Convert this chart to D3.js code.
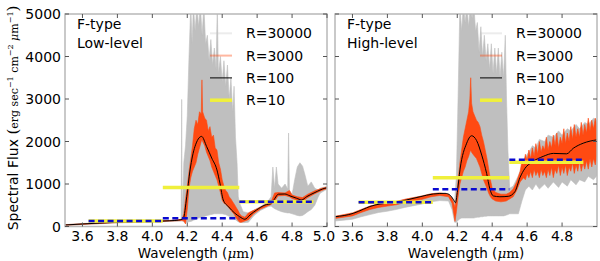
<!DOCTYPE html>
<html>
<head>
<meta charset="utf-8">
<script src="https://cdn.jsdelivr.net/npm/d3@7"></script>
<style>
  body { margin: 0; background: #fff; }
  text { font-family: "DejaVu Sans", sans-serif; fill: #000; }
</style>
</head>
<body>
<script>
    // tick labels, legend, panel titles
    const waveTicks = [3.6, 3.8, 4.0, 4.2, 4.4, 4.6, 4.8, 5.0];
    const fluxTicks = [0, 1000, 2000, 3000, 4000, 5000];
    const legendLabels = ["R=30000", "R=3000", "R=100", "R=10"];
    const panelTitles = [["F-type", "Low-level"], ["F-type", "High-level"]];

    // R=10 bins (shared edges) and the dashed comparison values
    const binEdges = [3.635, 4.06, 4.498, 4.922];
    const lowR10 = [130, 915, 585];
    const lowDashed = [130, 193, 585];
    const highR10 = [570, 1150, 1514];
    const highDashed = [570, 877, 1568];

    // R=100: [wavelength, flux]
    const lowR100 = [
      [3.50, 35], [3.60, 60], [3.70, 80], [3.80, 100], [3.90, 110], [4.00, 120], [4.10, 135],
      [4.15, 150], [4.177, 185], [4.197, 700], [4.216, 1330], [4.244, 1880], [4.282, 2120],
      [4.311, 1880], [4.34, 1610], [4.37, 1330], [4.387, 1020], [4.406, 625], [4.435, 470],
      [4.473, 310], [4.50, 230], [4.53, 170], [4.559, 270], [4.597, 390], [4.645, 505],
      [4.683, 545], [4.702, 665], [4.721, 760], [4.759, 765], [4.788, 720], [4.826, 665],
      [4.855, 625], [4.883, 700], [4.931, 800], [4.988, 900], [5.00, 910]
    ];
    const highR100 = [
      [3.50, 230], [3.605, 310], [3.662, 405], [3.70, 470], [3.758, 530], [3.834, 560],
      [3.91, 625], [3.987, 700], [4.063, 765], [4.13, 780], [4.158, 740], [4.177, 640],
      [4.19, 560], [4.20, 800], [4.216, 1350], [4.254, 1960], [4.282, 2135], [4.311, 2020],
      [4.34, 1680], [4.368, 1250], [4.387, 880], [4.406, 720], [4.444, 700], [4.492, 710],
      [4.53, 820], [4.559, 1150], [4.588, 1370], [4.626, 1510], [4.692, 1650], [4.75, 1720],
      [4.826, 1710], [4.864, 1840], [4.921, 1960], [5.00, 2040]
    ];

    // R=3000 and R=30000 spread: [wavelength, low, high]
    const lowR3000 = [
      [3.50, 28, 42], [3.80, 92, 108], [4.10, 128, 142], [4.17, 140, 170], [4.18, 130, 300],
      [4.19, 60, 650], [4.20, 400, 950], [4.21, 900, 1300], [4.22, 1150, 1600], [4.23, 1300, 1900],
      [4.24, 1400, 2300], [4.25, 1500, 2500], [4.26, 1700, 2400], [4.27, 1850, 2700],
      [4.28, 2000, 2650], [4.284, 2050, 3450], [4.288, 2000, 2700], [4.30, 1900, 2550],
      [4.31, 1750, 2500], [4.32, 1650, 2250], [4.33, 1550, 2350], [4.34, 1400, 2100],
      [4.35, 1300, 2150], [4.36, 1200, 1850], [4.37, 1100, 1800], [4.38, 950, 1500],
      [4.39, 800, 1350], [4.40, 620, 1100], [4.41, 550, 950], [4.42, 520, 850], [4.43, 480, 800],
      [4.44, 430, 700], [4.45, 380, 650], [4.46, 330, 580], [4.47, 280, 520], [4.48, 200, 450],
      [4.49, 150, 380], [4.50, 100, 300], [4.51, 100, 250], [4.53, 130, 220], [4.55, 160, 320],
      [4.58, 300, 380], [4.62, 410, 460], [4.68, 520, 580], [4.70, 600, 790], [4.72, 720, 800],
      [4.76, 730, 790], [4.785, 700, 850], [4.80, 660, 740], [4.83, 620, 700], [4.86, 590, 680],
      [4.89, 680, 760], [4.93, 770, 840], [4.97, 850, 900], [5.00, 890, 930]
    ];
    const lowR30000 = [
      [3.50, 20, 45], [3.60, 45, 70], [3.70, 65, 90], [3.80, 85, 110], [3.90, 95, 120],
      [4.00, 105, 130], [4.10, 120, 145], [4.165, 130, 160], [4.168, 130, 2990], [4.171, 130, 160],
      [4.18, 110, 1500], [4.19, 100, 1900], [4.20, 100, 2600], [4.21, 110, 4000], [4.22, 120, 5200],
      [4.228, 130, 4300], [4.235, 150, 5200], [4.245, 160, 4600], [4.255, 180, 5200],
      [4.265, 200, 4700], [4.275, 210, 5200], [4.285, 220, 4500], [4.295, 230, 5200],
      [4.305, 250, 4300], [4.315, 260, 4500], [4.325, 270, 3900], [4.335, 280, 4400],
      [4.345, 290, 3800], [4.355, 300, 4200], [4.365, 300, 3700], [4.372, 300, 5200],
      [4.378, 300, 3600], [4.39, 300, 4000], [4.40, 300, 3400], [4.41, 290, 3900],
      [4.42, 280, 3300], [4.43, 260, 3800], [4.44, 240, 3000], [4.45, 220, 3500],
      [4.46, 200, 2700], [4.468, 180, 3300], [4.476, 160, 2100], [4.485, 130, 1500],
      [4.492, 110, 700], [4.50, 100, 550], [4.52, 90, 350], [4.55, 100, 320], [4.58, 250, 380],
      [4.62, 380, 470], [4.66, 460, 580], [4.68, 480, 700], [4.69, 450, 1400], [4.70, 420, 900],
      [4.71, 400, 1400], [4.72, 380, 1000], [4.74, 350, 900], [4.76, 330, 1000], [4.775, 320, 880],
      [4.78, 320, 2200], [4.785, 320, 850], [4.80, 300, 750], [4.815, 280, 1100], [4.83, 260, 1400],
      [4.845, 250, 1500], [4.86, 260, 1420], [4.875, 300, 1200], [4.89, 350, 950], [4.91, 400, 1050],
      [4.93, 500, 900], [4.95, 700, 860], [4.96, 780, 900], [5.00, 880, 940]
    ];
    const highR3000 = [
      [3.50, 190, 240], [3.60, 250, 320], [3.65, 330, 400], [3.70, 400, 480], [3.75, 450, 530],
      [3.80, 480, 560], [3.85, 510, 590], [3.90, 560, 640], [3.95, 600, 680], [4.00, 640, 720],
      [4.05, 700, 770], [4.10, 730, 790], [4.15, 700, 760], [4.17, 550, 660], [4.18, 300, 550],
      [4.187, 120, 450], [4.195, 350, 700], [4.205, 700, 1100], [4.215, 1000, 1500],
      [4.225, 1150, 1800], [4.235, 1300, 2100], [4.245, 1400, 2300], [4.255, 1550, 2500],
      [4.265, 1650, 2700], [4.272, 1750, 3000], [4.277, 1800, 3500], [4.282, 1750, 2900],
      [4.29, 1700, 2700], [4.30, 1650, 2600], [4.31, 1600, 2500], [4.32, 1500, 2450],
      [4.33, 1400, 2350], [4.34, 1250, 2150], [4.35, 1100, 2000], [4.36, 1000, 1800],
      [4.37, 900, 1600], [4.38, 780, 1350], [4.39, 700, 1100], [4.40, 650, 900], [4.42, 600, 800],
      [4.45, 580, 760], [4.48, 600, 760], [4.50, 650, 800], [4.52, 700, 880], [4.54, 850, 1050],
      [4.56, 1050, 1300], [4.57, 1100, 1550], [4.58, 1150, 1450], [4.59, 1100, 1700],
      [4.60, 1250, 1550], [4.61, 1150, 1800], [4.62, 1300, 1600], [4.63, 1150, 1850],
      [4.64, 1350, 1650], [4.65, 1200, 1950], [4.66, 1300, 1700], [4.67, 1150, 2000],
      [4.68, 1350, 1750], [4.69, 1200, 1900], [4.70, 1300, 1800], [4.71, 1150, 2100],
      [4.72, 1350, 1800], [4.73, 1200, 2000], [4.74, 1400, 1850], [4.75, 1150, 2150],
      [4.76, 1350, 1900], [4.77, 1250, 2200], [4.78, 1450, 1850], [4.79, 1200, 2100],
      [4.80, 1400, 1950], [4.81, 1250, 2300], [4.82, 1450, 1950], [4.83, 1200, 2200],
      [4.84, 1400, 2000], [4.85, 1300, 2350], [4.86, 1500, 2050], [4.87, 1250, 2400],
      [4.88, 1450, 2100], [4.89, 1300, 2300], [4.90, 1550, 2100], [4.91, 1300, 2450],
      [4.92, 1500, 2150], [4.93, 1350, 2400], [4.94, 1550, 2200], [4.95, 1350, 2550],
      [4.96, 1600, 2250], [4.97, 1400, 2500], [4.98, 1600, 2300], [4.99, 1450, 2550],
      [5.00, 1650, 2350]
    ];
    const highR30000 = [
      [3.50, 130, 240], [3.55, 150, 270], [3.60, 170, 320], [3.65, 230, 400], [3.70, 280, 480],
      [3.75, 330, 530], [3.80, 360, 560], [3.85, 400, 580], [3.90, 450, 640], [3.95, 490, 680],
      [4.00, 530, 720], [4.05, 580, 770], [4.10, 610, 790], [4.15, 600, 760], [4.17, 400, 680],
      [4.185, 100, 600], [4.195, 100, 1200], [4.205, 150, 3100], [4.215, 180, 5200],
      [4.225, 200, 4600], [4.235, 200, 5200], [4.245, 200, 4800], [4.255, 200, 5200],
      [4.265, 200, 4700], [4.275, 200, 5200], [4.285, 200, 4900], [4.295, 200, 5200],
      [4.305, 210, 4600], [4.315, 220, 4800], [4.325, 220, 4100], [4.335, 230, 4700],
      [4.345, 230, 4000], [4.355, 240, 4500], [4.365, 240, 3900], [4.375, 250, 4300],
      [4.385, 250, 3700], [4.395, 250, 4300], [4.405, 250, 3600], [4.415, 250, 4200],
      [4.425, 250, 3600], [4.435, 250, 4200], [4.445, 250, 3500], [4.455, 250, 4100],
      [4.465, 250, 3500], [4.475, 260, 4500], [4.482, 270, 3000], [4.49, 280, 1800],
      [4.50, 300, 900], [4.52, 300, 950], [4.55, 300, 1200], [4.57, 600, 1400], [4.59, 860, 1650],
      [4.61, 950, 1750], [4.63, 860, 1900], [4.65, 1000, 1850], [4.67, 880, 2050],
      [4.70, 1000, 2000], [4.72, 900, 2150], [4.75, 1050, 2100], [4.78, 920, 2250],
      [4.80, 1050, 2150], [4.83, 950, 2300], [4.85, 1100, 2250], [4.88, 980, 2400],
      [4.90, 1100, 2300], [4.93, 1050, 2450], [4.95, 1180, 2400], [4.98, 1100, 2550],
      [5.00, 1200, 2500]
    ];

    const svg = d3.select("body")
      .append("svg")
        .attr("width", 600)
        .attr("height", 261);

    const yScale = d3.scaleLinear()
      .domain([0, 5000])
      .range([226.5, 14]);

    const panels = [
      { left: 65, right: 327, ticks: waveTicks, yLabels: true, title: panelTitles[0],
        r30000: lowR30000, r3000: lowR3000, r100: lowR100, r10: lowR10, dashed: lowDashed,
        legendX: 210 },
      { left: 335, right: 597, ticks: waveTicks.slice(0, 7), yLabels: false, title: panelTitles[1],
        r30000: highR30000, r3000: highR3000, r100: highR100, r10: highR10, dashed: highDashed,
        legendX: 480 }
    ];

    const colors = ["#bfbfbf", "#ff4a12", "#000", "#f0f03c"];

    panels.forEach((p, k) => {
      const xScale = d3.scaleLinear().domain([3.5, 5.0]).range([p.left, p.right]);

      svg.append("clipPath").attr("id", "clip" + k)
        .append("rect")
          .attr("x", p.left).attr("y", yScale(5000))
          .attr("width", p.right - p.left).attr("height", yScale(0) - yScale(5000));

      const g = svg.append("g").attr("clip-path", `url(#clip${k})`);

      const band = d3.area()
        .x(d => xScale(d[0]))
        .y0(d => yScale(d[1]))
        .y1(d => yScale(d[2]));

      g.append("path").datum(p.r30000)
        .attr("d", band).attr("fill", colors[0])
        .attr("stroke", colors[0]).attr("stroke-width", 0.6);

      g.append("path").datum(p.r3000)
        .attr("d", band).attr("fill", colors[1])
        .attr("stroke", colors[1]).attr("stroke-width", 0.6);

      g.append("path").datum(p.r100)
        .attr("d", d3.line().x(d => xScale(d[0])).y(d => yScale(d[1])).curve(d3.curveMonotoneX))
        .attr("fill", "none").attr("stroke", colors[2]).attr("stroke-width", 1);

      g.selectAll(".r10").data(p.r10).enter()
        .append("line")
          .attr("x1", (d, i) => xScale(binEdges[i]))
          .attr("x2", (d, i) => xScale(binEdges[i + 1]))
          .attr("y1", d => yScale(d)).attr("y2", d => yScale(d))
          .attr("stroke", colors[3]).attr("stroke-width", 3.5);

      g.selectAll(".dashed").data(p.dashed).enter()
        .append("line")
          .attr("x1", (d, i) => xScale(binEdges[i]))
          .attr("x2", (d, i) => xScale(binEdges[i + 1]))
          .attr("y1", d => yScale(d)).attr("y2", d => yScale(d))
          .attr("stroke", "#0a0ad0").attr("stroke-width", 2.5)
          .attr("stroke-dasharray", "6,3.5");

      // frame and inward ticks on all sides
      const frame = svg.append("g");
      frame.append("rect")
        .attr("x", p.left).attr("y", yScale(5000))
        .attr("width", p.right - p.left).attr("height", yScale(0) - yScale(5000))
        .attr("fill", "none").attr("stroke", "#b8b8b8").attr("stroke-width", 1.5);

      p.ticks.forEach(t => {
        frame.append("line").attr("x1", xScale(t)).attr("x2", xScale(t))
          .attr("y1", yScale(0)).attr("y2", yScale(0) - 4).attr("stroke", "#555");
        frame.append("line").attr("x1", xScale(t)).attr("x2", xScale(t))
          .attr("y1", yScale(5000)).attr("y2", yScale(5000) + 4).attr("stroke", "#555");
        frame.append("text")
          .attr("x", xScale(t) - (t === 5.0 ? 3 : 0)).attr("y", 241)
          .attr("text-anchor", "middle").style("font-size", "14px")
          .text(t.toFixed(1));
      });

      fluxTicks.forEach(t => {
        frame.append("line").attr("x1", p.left).attr("x2", p.left + 4)
          .attr("y1", yScale(t)).attr("y2", yScale(t)).attr("stroke", "#555");
        frame.append("line").attr("x1", p.right).attr("x2", p.right - 4)
          .attr("y1", yScale(t)).attr("y2", yScale(t)).attr("stroke", "#555");
        if (p.yLabels) {
          frame.append("text")
            .attr("x", p.left - 4).attr("y", yScale(t) + 5)
            .attr("text-anchor", "end").style("font-size", "14px")
            .text(t);
        }
      });

      const xl = frame.append("text")
        .attr("x", (p.left + p.right) / 2).attr("y", 257.5)
        .attr("text-anchor", "middle").style("font-size", "13.5px");
      xl.append("tspan").text("Wavelength (");
      xl.append("tspan").style("font-family", "DejaVu Serif, serif").style("font-style", "italic").text("\u03bc");
      xl.append("tspan").style("font-family", "DejaVu Serif, serif").text("m");
      xl.append("tspan").text(")");

      p.title.forEach((s, i) => {
        frame.append("text")
          .attr("x", p.left + 12).attr("y", 29 + i * 19)
          .style("font-size", "14px")
          .text(s);
      });

      legendLabels.forEach((s, i) => {
        const ly = 33.3 + i * 22.3;
        frame.append("line")
          .attr("x1", p.legendX).attr("x2", p.legendX + 22)
          .attr("y1", ly).attr("y2", ly)
          .attr("stroke", i === 2 ? colors[2] : colors[i])
          .attr("stroke-opacity", i === 0 ? 0.3 : (i === 1 ? 0.4 : 1))
          .attr("stroke-width", i === 3 ? 3.5 : (i === 2 ? 1 : 2));
        frame.append("text")
          .attr("x", p.legendX + 36).attr("y", ly + 5)
          .style("font-size", "14px")
          .text(s);
      });
    });

    // y-axis label with math part
    const yl = svg.append("text")
      .attr("transform", "translate(18, 118) rotate(-90)")
      .attr("text-anchor", "middle")
      .style("font-size", "14px");
    yl.append("tspan").text("Spectral Flux ");
    const serif = "DejaVu Serif, serif";
    yl.append("tspan").style("font-family", serif).style("font-size", "15px").text("(");
    yl.append("tspan").style("font-family", serif).style("font-size", "11px").text("erg sec");
    yl.append("tspan").style("font-family", serif).style("font-size", "8px").attr("dy", -5).text("\u22121");
    yl.append("tspan").style("font-family", serif).style("font-size", "11px").attr("dy", 5).text(" cm");
    yl.append("tspan").style("font-family", serif).style("font-size", "8px").attr("dy", -5).text("\u22122");
    yl.append("tspan").style("font-family", serif).style("font-size", "11px").style("font-style", "italic").attr("dy", 5).text(" \u03bc");
    yl.append("tspan").style("font-family", serif).style("font-size", "11px").text("m");
    yl.append("tspan").style("font-family", serif).style("font-size", "8px").attr("dy", -5).text("\u22121");
    yl.append("tspan").style("font-family", serif).style("font-size", "15px").attr("dy", 5).text(")");
</script>
</body>
</html>
